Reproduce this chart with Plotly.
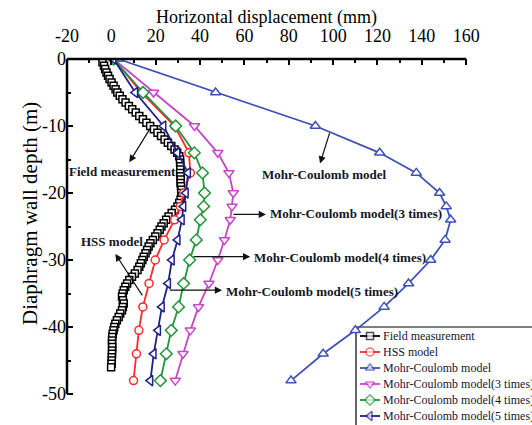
import plotly.graph_objects as go

# ---------------- data ----------------
field_depth = [-0.5, -1.0, -1.5, -2.0, -2.5, -3.0, -3.5, -4.0, -4.5, -5.0, -5.5, -6.0, -6.5, -7.0, -7.5,
               -8.0, -8.5, -9.0, -9.5, -10.0, -10.5, -11.0, -11.5, -12.0, -12.5, -13.0, -13.5, -14.0,
               -14.5, -15.0, -15.5, -16.0, -16.5, -17.0, -17.5, -18.0, -18.5, -19.0, -19.5, -20.0,
               -20.5, -21.0, -21.5, -22.0, -22.5, -23.0, -23.5, -24.0, -24.5, -25.0, -25.5, -26.0,
               -26.5, -27.0, -27.5, -28.0, -28.5, -29.0, -29.5, -30.0, -30.5, -31.0, -31.5, -32.0,
               -32.5, -33.0, -33.5, -34.0, -34.5, -35.0, -35.5, -36.0, -36.5, -37.0, -37.5, -38.0,
               -38.5, -39.0, -39.5, -40.0, -40.5, -41.0, -41.5, -42.0, -42.5, -43.0, -43.5, -44.0,
               -44.5, -45.0, -45.5, -46.0]
field_disp = [-4.0, -3.3, -2.8, -2.2, -1.5, -0.8, 0.1, 1.0, 1.9, 2.7, 3.8, 5.0, 6.4, 7.9, 9.4,
              11.0, 12.6, 14.2, 15.8, 17.5, 19.2, 20.8, 22.4, 24.0, 25.5, 27.0, 28.5, 29.7,
              30.6, 31.0, 31.0, 31.1, 31.1, 31.0, 31.2, 31.3, 31.2, 31.4, 31.6, 31.5,
              31.6, 31.2, 30.6, 29.8, 28.7, 27.2, 25.8, 24.7, 23.6, 22.6, 21.8, 20.8,
              19.8, 18.7, 17.6, 16.8, 16.1, 15.4, 14.6, 14.0, 13.3, 12.6, 11.8, 10.6,
              9.3, 8.1, 7.1, 6.3, 5.6, 5.1, 4.8, 5.2, 5.6, 5.2, 4.8, 4.0,
              3.3, 2.5, 1.8, 1.3, 1.0, 0.6, 0.4, 0.3, 0.3, 0.4, 0.3, 0.3,
              0.2, 0.2, 0.1, -0.1]

model_depth = [0, -5, -10, -14, -17, -20, -22, -24, -27, -30, -33.5, -37, -40.5, -44, -48]
hss_disp = [1, 13.5, 28.5, 35.0, 35.6, 32.6, 31.1, 28.5, 23.8, 19.8, 17.0, 14.2, 12.4, 11.3, 10.0]
mc_disp = [3, 47, 92, 121, 137.5, 148, 151, 153, 150.5, 144, 134, 123, 110, 95.5, 81]
mc3_disp = [1, 19, 37.5, 48, 53, 55, 54.4, 53.6, 51, 48, 44, 39.3, 35.6, 32.3, 28.8]
mc4_disp = [1, 14.3, 29, 37.4, 41.1, 42, 41.6, 40.1, 38.3, 35.3, 32.6, 30.3, 27, 24.8, 22.1]
mc5_disp = [1, 10.8, 23.5, 29.8, 34.6, 33.6, 32.5, 31.8, 29.9, 27.3, 25.6, 22.8, 21.1, 19.1, 17.6]

series_names = ["Field measurement", "HSS model", "Mohr-Coulomb model",
                "Mohr-Coulomb model(3 times)", "Mohr-Coulomb model(4 times)",
                "Mohr-Coulomb model(5 times)"]

x_ticks = [-20, 0, 20, 40, 60, 80, 100, 120, 140, 160]
x_minor = [-10, 10, 30, 50, 70, 90, 110, 130, 150]
y_ticks = [0, -10, -20, -30, -40, -50]
y_minor = [-5, -15, -25, -35, -45]

SERIF = "Liberation Serif"

# ---------------- layout geometry (pixels) ----------------
W, H = 532, 425
L, T = 67, 59                 # plot area origin (left, top)
X0, X1 = -20, 160             # axis span drawn in reference
PX_X1 = 466.2                 # pixel of x=160
PX_Y50 = 394.0                # pixel of y=-50
sx = (PX_X1 - L) / (X1 - X0)
sy = (PX_Y50 - T) / 50.0
x_range = [X0, X0 + (W - L) / sx]
y_range = [-(H - T) / sy, 0]

def paper_x(px):
    return (px - L) / (W - L)

def paper_y(py):
    return (H - py) / (H - T)

styles = [
    ("#000000", "square", 7),
    ("#ff2a2a", "circle", 8),
    ("#3f51b5", "triangle-up", 9),
    ("#c845c8", "triangle-down", 9),
    ("#23963c", "diamond", 9),
    ("#1e2088", "triangle-left", 9),
]
series_x = [field_disp, hss_disp, mc_disp, mc3_disp, mc4_disp, mc5_disp]
series_y = [field_depth, model_depth, model_depth, model_depth, model_depth, model_depth]

fig = go.Figure()
for name, xs, ys, (color, sym, size) in zip(series_names, series_x, series_y, styles):
    fig.add_trace(go.Scatter(
        x=xs, y=ys, name=name, mode="lines+markers", showlegend=False,
        line=dict(color=color, width=1.8),
        marker=dict(symbol=sym, size=size, color="white", line=dict(color=color, width=1.5)),
    ))

# ---------------- hand-built legend on a pixel overlay axis ----------------
leg_left, leg_top = 356, 327
row0, row_gap = 336, 16
for i, (name, (color, sym, size)) in enumerate(zip(series_names, styles)):
    ry = row0 + i * row_gap
    fig.add_trace(go.Scatter(
        x=[360, 370, 380], y=[ry, ry, ry], xaxis="x2", yaxis="y2",
        mode="lines+markers", showlegend=False, cliponaxis=False, hoverinfo="skip",
        line=dict(color=color, width=1.8),
        marker=dict(symbol=sym, size=[0, min(size, 8), 0], color="white",
                    line=dict(color=color, width=1.5)),
    ))
    fig.add_annotation(x=paper_x(381), y=paper_y(ry), xref="paper", yref="paper", text=name,
                       showarrow=False, xanchor="left", yanchor="middle",
                       font=dict(family=SERIF, size=12, color="#151530"))
fig.add_shape(type="rect", xref="x2", yref="y2", x0=leg_left, x1=W + 10, y0=leg_top, y1=H + 10,
              line=dict(color="black", width=1.2), fillcolor="white", layer="below")

# ---------------- axis lines ----------------
fig.add_shape(type="line", xref="paper", yref="paper", x0=0, x1=paper_x(PX_X1), y0=1, y1=1,
              line=dict(color="black", width=2.5))
fig.add_shape(type="line", xref="paper", yref="paper", x0=0, x1=0, y0=1, y1=paper_y(PX_Y50),
              line=dict(color="black", width=2.5))

# ---------------- annotations ----------------
txt_font = dict(family=SERIF, size=13, color="#151525")
labels = [
    ("Field measurement", 5.0, -16.8, "center"),
    ("HSS model", 0.5, -27.3, "center"),
    ("Mohr-Coulomb model", 96.0, -17.2, "center"),
    ("Mohr-Coulomb model(3 times)", 70.6, -23.1, "left"),
    ("Mohr-Coulomb model(4 times)", 63.4, -29.6, "left"),
    ("Mohr-Coulomb model(5 times)", 50.9, -34.7, "left"),
]
for t, x, y, anc in labels:
    fig.add_annotation(x=x, y=y, xref="x", yref="y", text="<b>%s</b>" % t,
                       showarrow=False, xanchor=anc, yanchor="middle", font=txt_font)

arrows = [  # (head_x, head_y, tail_x, tail_y)
    (8.1, -15.4, 18.0, -10.1),
    (1.8, -29.1, 14.4, -35.5),
    (94.1, -15.6, 98.6, -10.85),
    (69.7, -23.2, 54.4, -23.2),
    (62.6, -29.5, 36.4, -29.5),
    (49.9, -34.5, 25.7, -34.5),
]
for hx, hy, tx, ty in arrows:
    fig.add_annotation(x=hx, y=hy, ax=tx, ay=ty, xref="x", yref="y", axref="x", ayref="y",
                       text="", showarrow=True, arrowhead=2, arrowsize=1.2, arrowwidth=1.2,
                       arrowcolor="#111111", standoff=0, startstandoff=0)

# axis titles
fig.add_annotation(x=paper_x(266), y=paper_y(17), xref="paper", yref="paper",
                   text="Horizontal displacement (mm)",
                   showarrow=False, xanchor="center", yanchor="middle",
                   font=dict(family=SERIF, size=18, color="black"))
fig.add_annotation(x=paper_x(30), y=paper_y(214), xref="paper", yref="paper",
                   text="Diaphragm wall depth (m)",
                   showarrow=False, textangle=-90, xanchor="center", yanchor="middle",
                   font=dict(family=SERIF, size=21, color="black"))

tick_common = dict(ticks="inside", ticklen=6, tickwidth=2, tickcolor="black",
                   showline=False, showgrid=False, zeroline=False, automargin=False,
                   tickfont=dict(family=SERIF, size=18, color="black"))

fig.update_layout(
    width=W, height=H,
    margin=dict(l=L, r=0, t=T, b=0, autoexpand=False),
    paper_bgcolor="white", plot_bgcolor="white",
    font=dict(family=SERIF, color="black"),
    showlegend=False,
    xaxis=dict(side="top", range=x_range, tickvals=x_ticks, ticktext=[str(v) for v in x_ticks],
               ticklabelstandoff=12,
               minor=dict(tickvals=x_minor, ticks="inside", ticklen=4, tickwidth=2, tickcolor="black"),
               **tick_common),
    yaxis=dict(range=y_range, tickvals=y_ticks, ticktext=[str(v) for v in y_ticks],
               minor=dict(tickvals=y_minor, ticks="inside", ticklen=4, tickwidth=2, tickcolor="black"),
               **tick_common),
    xaxis2=dict(overlaying="x", anchor="y2", range=[L, W], visible=False),
    yaxis2=dict(overlaying="y", anchor="x2", range=[H, T], visible=False),
)

fig.write_html("out.html")
